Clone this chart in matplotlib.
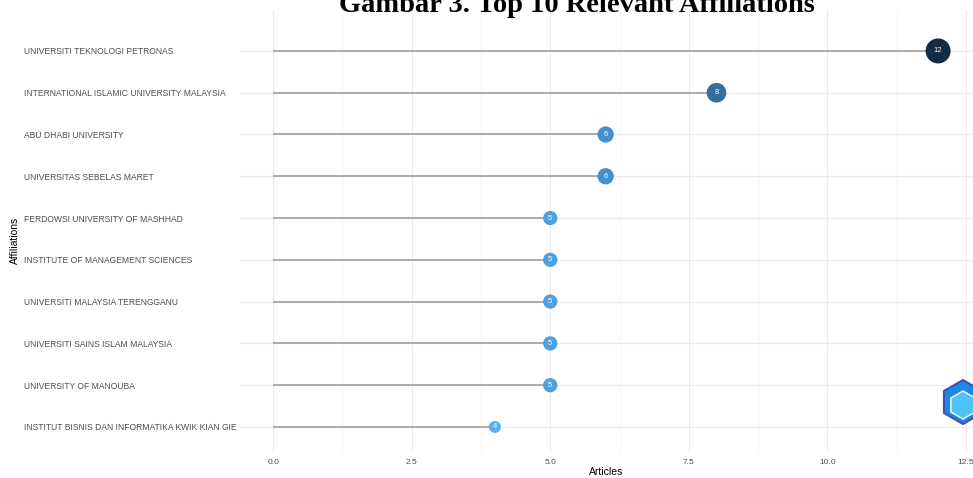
import numpy as np
import matplotlib
matplotlib.use("Agg")
import matplotlib.pyplot as plt
from matplotlib.colors import LinearSegmentedColormap
from matplotlib.patches import Polygon

affiliations = [
    "UNIVERSITI TEKNOLOGI PETRONAS",
    "INTERNATIONAL ISLAMIC UNIVERSITY MALAYSIA",
    "ABU DHABI UNIVERSITY",
    "UNIVERSITAS SEBELAS MARET",
    "FERDOWSI UNIVERSITY OF MASHHAD",
    "INSTITUTE OF MANAGEMENT SCIENCES",
    "UNIVERSITI MALAYSIA TERENGGANU",
    "UNIVERSITI SAINS ISLAM MALAYSIA",
    "UNIVERSITY OF MANOUBA",
    "INSTITUT BISNIS DAN INFORMATIKA KWIK KIAN GIE",
]
articles = [12, 8, 6, 6, 5, 5, 5, 5, 5, 4]
xticks = [0.0, 2.5, 5.0, 7.5, 10.0, 12.5]

W, H = 973, 478
fig = plt.figure(figsize=(W / 100, H / 100), dpi=100)
ax = fig.add_axes([240 / W, 1 - 452 / H, (W - 240) / W, (452 - 10) / H])

ypos = np.arange(len(affiliations))[::-1]
vals = np.array(articles)

# ggplot-like continuous colour + size scale
cmap = LinearSegmentedColormap.from_list("gg", ["#56B1F7", "#132B43"])
norm = (vals - vals.min()) / (vals.max() - vals.min())
colors = cmap(norm)
sizes = -49.5 + 31.1 * vals

# grid
for x in xticks:
    ax.axvline(x, color="#ebebeb", lw=0.9, zorder=0)
for x in np.arange(1.25, 13, 2.5):
    ax.axvline(x, color="#f3f3f3", lw=0.6, zorder=0)
for y in ypos:
    ax.axhline(y, color="#ebebeb", lw=0.9, zorder=0)

ax.hlines(ypos, 0, vals, color="#a6a6a6", lw=1.3, zorder=1)
ax.scatter(vals, ypos, s=sizes, c=colors, zorder=2, linewidths=0)
for x, y in zip(vals, ypos):
    ax.text(x, y, str(x), color="white", fontsize=5.5, ha="center", va="center",
            family="Liberation Sans", zorder=3)

ax.set_xlim(-0.6, 12.63)
ax.set_ylim(-0.6, 9.98)
ax.set_xticks(xticks)
ax.set_xticklabels([f"{x:.1f}" for x in xticks], fontsize=6, color="#4d4d4d",
                   family="Liberation Sans")
ax.set_yticks(ypos)
ax.set_yticklabels(affiliations, fontsize=6.15, color="#4d4d4d", family="Liberation Sans",
                   ha="left")
ax.tick_params(axis="y", length=0, pad=216 * 0.72)
ax.tick_params(axis="x", length=0, pad=5)
for s in ax.spines.values():
    s.set_visible(False)

fig.text(606 / W, 1 - 472 / H, "Articles", fontsize=7.5, ha="center", va="center",
         family="Liberation Sans")
fig.text(15 / W, 1 - 240 / H, "Affiliations", fontsize=7.5, ha="center", va="center",
         rotation=90, family="Liberation Sans")
fig.text(577 / W, 1 - 12 / H, "Gambar 3. Top 10 Relevant Affiliations", fontsize=20.5,
         fontweight="bold", ha="center", va="baseline", family="Liberation Serif")

# logo approximation (pointy-top hexagon), in pixels
cx, cy, r = 963, 402, 22
ang = np.deg2rad(90 + 60 * np.arange(6))
hx = (cx + r * np.cos(ang)) / W
hy = 1 - (cy - r * np.sin(ang)) / H
fig.patches.append(Polygon(np.column_stack([hx, hy]), closed=True,
                           transform=fig.transFigure, facecolor="#1e88e5",
                           edgecolor="#3f51b5", lw=1.5))
r2 = 14
hx2 = (cx + r2 * np.cos(ang)) / W
hy2 = 1 - (cy + 3 - r2 * np.sin(ang)) / H
fig.patches.append(Polygon(np.column_stack([hx2, hy2]), closed=True,
                           transform=fig.transFigure, facecolor="#4fc3f7",
                           edgecolor="white", lw=1.0))

fig.savefig("out.png", dpi=100)
